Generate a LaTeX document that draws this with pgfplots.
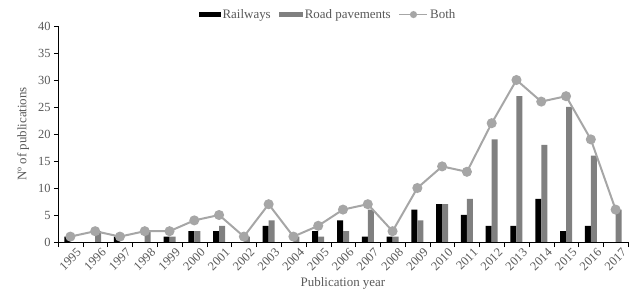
\documentclass[border=0pt]{standalone}
\usepackage{fontspec}
\setmainfont{Liberation Serif}
\usepackage{pgfplots}
\pgfplotsset{compat=1.18}
\definecolor{cgray}{HTML}{808080}
\definecolor{lgray}{HTML}{A6A6A6}
\definecolor{txt}{HTML}{595959}
\begin{document}
\begin{tikzpicture}
\begin{axis}[
  scale only axis, width=570bp, height=216bp,
  font=\fontsize{13}{15}\selectfont,
  /pgf/number format/assume math mode=true,
  xmin=-0.5, xmax=22.5, ymin=0, ymax=40,
  ytick={0,5,...,40},
  xtick={0,...,22},
  xticklabels={1995,1996,1997,1998,1999,2000,2001,2002,2003,2004,2005,2006,2007,2008,2009,2010,2011,2012,2013,2014,2015,2016,2017},
  xticklabel style={rotate=45, anchor=north east, font=\fontsize{12.5}{13}\selectfont, inner sep=0pt, xshift=3bp, yshift=-5bp, text=txt},
  yticklabel style={font=\fontsize{12.5}{13}\selectfont, text=txt},
  major x tick style={draw=none},
  minor xtick={-0.5,0.5,...,22.5},
  minor tick length=5bp,
  major tick length=4bp,
  tick align=outside,
  axis x line*=bottom, axis y line*=left,
  axis line style={-, black},
  tick style={black},
  xlabel={Publication year}, ylabel={Nº of publications},
  label style={text=txt},
  xlabel style={yshift=-3bp},
  ylabel style={yshift=2bp},
  legend columns=3,
  legend style={draw=none, at={(0.5,1.0)}, anchor=south, xshift=-15bp, yshift=4bp, /tikz/every even column/.append style={column sep=6bp}, nodes={inner xsep=2bp}, font=\fontsize{13}{15}\selectfont, text=txt, inner sep=0pt},
]
\addplot[ybar, bar width=6bp, bar shift=-3bp, fill=black, draw=none,
  legend image code/.code={\fill[black] (0bp,-2.5bp) rectangle (22bp,2.5bp);}]
  coordinates {(0,1)(1,0)(2,1)(3,0)(4,1)(5,2)(6,2)(7,0)(8,3)(9,0)(10,2)(11,4)(12,1)(13,1)(14,6)(15,7)(16,5)(17,3)(18,3)(19,8)(20,2)(21,3)(22,0)};
\addlegendentry{Railways}
\addplot[ybar, bar width=6bp, bar shift=3bp, fill=cgray, draw=none,
  legend image code/.code={\fill[cgray] (0bp,-2.5bp) rectangle (24bp,2.5bp);}]
  coordinates {(0,0)(1,2)(2,0)(3,2)(4,1)(5,2)(6,3)(7,1)(8,4)(9,1)(10,1)(11,2)(12,6)(13,1)(14,4)(15,7)(16,8)(17,19)(18,27)(19,18)(20,25)(21,16)(22,6)};
\addlegendentry{Road pavements}
\addplot[lgray, line width=2pt, mark=*, mark size=4pt, mark options={fill=lgray, draw=lgray},
  legend image code/.code={\draw[lgray, line width=1.5pt] (0bp,0bp) -- (28bp,0bp); \fill[lgray] (14bp,0bp) circle (2.5bp);}]
  coordinates {(0,1)(1,2)(2,1)(3,2)(4,2)(5,4)(6,5)(7,1)(8,7)(9,1)(10,3)(11,6)(12,7)(13,2)(14,10)(15,14)(16,13)(17,22)(18,30)(19,26)(20,27)(21,19)(22,6)};
\addlegendentry{Both}
\end{axis}
\pgfresetboundingbox
\path[use as bounding box] ([shift={(-58bp,-58bp)}]current axis.south west) rectangle ([shift={(3bp,26bp)}]current axis.north east);
\end{tikzpicture}
\end{document}
